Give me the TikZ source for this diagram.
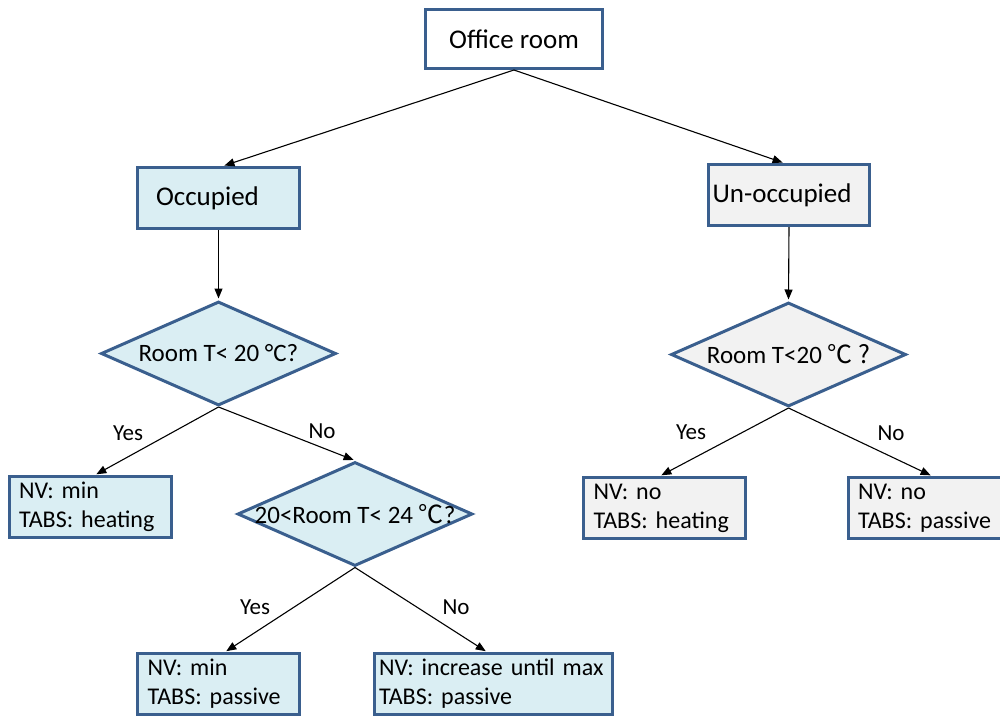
\documentclass[tikz,border=0pt]{standalone}
\usepackage{fontspec}
\setmainfont{Carlito}
\newfontfamily\cjk{Noto Sans CJK SC}
\usetikzlibrary{shapes.geometric,arrows.meta}
\definecolor{bord}{HTML}{3A5F8E}
\definecolor{lblue}{HTML}{DAEEF3}
\definecolor{lgray}{HTML}{F2F2F2}
\tikzset{
 box/.style={draw=bord, line width=3pt, rectangle, inner ysep=0pt, font=\fontsize{27}{32}\selectfont},
 info/.style={draw=bord, line width=3pt, rectangle, minimum height=61pt, inner xsep=10pt, inner ysep=0pt, align=left, text width=142pt, font=\fontsize{24}{29}\selectfont},
 dia/.style={draw=bord, line width=3pt, diamond, inner sep=0pt, minimum width=235pt, minimum height=104pt},
 dtext/.style={font=\fontsize{25}{30}\selectfont, inner sep=0pt},
 arr/.style={-{Triangle[length=10pt,width=8pt]}, line width=1.1pt, shorten >=1.5pt},
 lbl/.style={font=\fontsize{23}{28}\selectfont, inner sep=0pt}
}
\begin{document}
\begin{tikzpicture}[x=1pt,y=-1pt]
\clip (0,0) rectangle (1000,715);
\fill[white] (0,0) rectangle (1000,715);
% top
\node[box, fill=white, minimum width=177pt, minimum height=59pt] (office) at (514,39) {Office room};
\node[box, fill=lblue, minimum width=162pt, minimum height=61pt, align=left, text width=125pt, inner xsep=18pt] (occ) at (218.5,198) {Occupied};
\node[box, fill=lgray, minimum width=161pt, minimum height=61pt, align=left, text width=153pt, inner xsep=4pt] (unocc) at (789,195) {Un-occupied};
% diamonds
\node[dia, fill=lblue] (d1) at (218.5,353.5) {};
\node[dtext] (t1) at (d1.center) {Room T< 20 °C?};
\node[dia, fill=lblue] (d2) at (355,514) {};
\node[dtext] (t2) at (d2.center) {20<Room T< 24 {\cjk ℃}?};
\node[dia, fill=lgray] (d3) at (788.5,354.5) {};
\node[dtext] (t3) at (d3.center) {Room T<20 {\cjk ℃ ?}};
% leaves
\node[info, fill=lblue] (l1) at (90,507) {NV: min\\TABS: heating};
\node[info, fill=lblue] (l2) at (218.5,684) {NV: min\\TABS: passive};
\node[info, fill=lblue, text width=228pt, inner xsep=5pt] (l3) at (493,684) {NV: increase until max\\TABS: passive};
\node[info, fill=lgray] (l4) at (664.5,508) {NV: no\\TABS: heating};
\node[info, fill=lgray] (l5) at (929,508) {NV: no\\TABS: passive};
% connectors
\draw[arr] (office.south) -- ([xshift=4.5pt]occ.north);
\draw[arr] (office.south) -- ([xshift=-5pt]unocc.north);
\draw[arr] (occ.south) -- (d1.north);
\draw[arr] (unocc.south) -- (d3.north);
\draw[arr] (d1.south) -- ([xshift=5pt]l1.north);
\draw[arr] (d1.south) -- (d2.north);
\draw[arr] (d2.south) -- ([xshift=6.5pt]l2.north);
\draw[arr] (d2.south) -- ([xshift=-6pt]l3.north);
\draw[arr] (d3.south) -- ([xshift=-4.5pt]l4.north);
\draw[arr] (d3.south) -- ([xshift=3pt]l5.north);
% labels
\node[lbl] (y1) at (128,433) {Yes};
\node[lbl] (n1) at (322,431) {No};
\node[lbl] (y2) at (255,607) {Yes};
\node[lbl] (n2) at (456,607) {No};
\node[lbl] (y3) at (691,432) {Yes};
\node[lbl] (n3) at (891,433) {No};
\end{tikzpicture}
\end{document}
